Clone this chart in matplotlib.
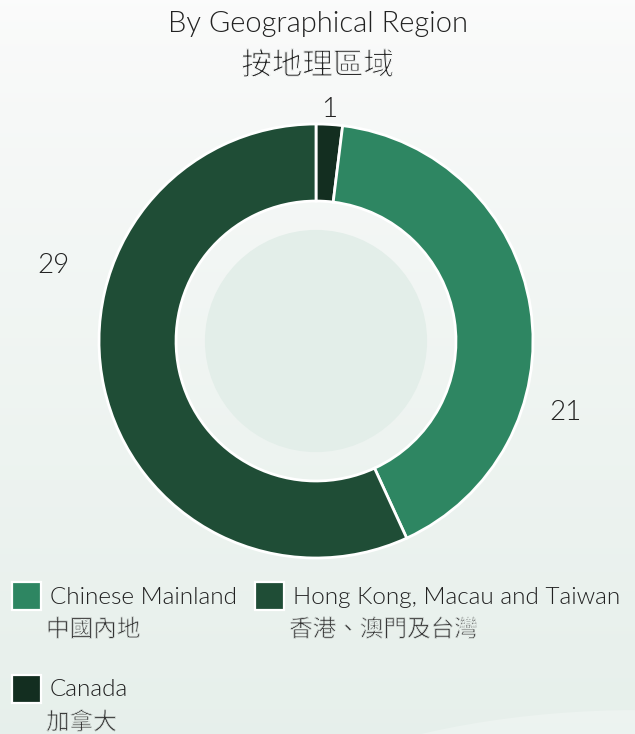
import matplotlib.pyplot as plt
import matplotlib.patches as mpatches
import matplotlib.patheffects as pe
import numpy as np

# data
regions_en = ['Canada', 'Chinese Mainland', 'Hong Kong, Macau and Taiwan']
regions_zh = ['加拿大', '中國內地', '香港、澳門及台灣']
counts = [1, 21, 29]
colors = ['#132e20', '#2e8662', '#1f4d36']

fonts = ['Lato', 'Noto Sans CJK TC', 'DejaVu Sans']
cjk = ['Noto Sans CJK TC', 'DejaVu Sans']
plt.rcParams['font.family'] = fonts
TXT = '#222222'
WT = 300

W, H = 635, 734
fig = plt.figure(figsize=(W / 100, H / 100), dpi=100)

# background with soft gradient, pixel coordinates
bg = fig.add_axes([0, 0, 1, 1])
bg.set_xlim(0, W)
bg.set_ylim(H, 0)
bg.axis('off')
top = np.array([0.985, 0.985, 0.985])
bot = np.array([0.905, 0.940, 0.922])


def bg_at(y):
    return top + (bot - top) * (y / H) ** 0.8


grad = np.linspace(0, H, 256)
img = np.array([bg_at(y) for y in grad])[:, None, :]
bg.imshow(img, extent=[0, W, H, 0], aspect='auto', zorder=0)
bg.add_patch(mpatches.Ellipse((640, 900), 900, 380, color='white', alpha=0.25, lw=0, zorder=1))


def thin(y, lw):
    # erode the heavy CJK glyphs a little so they read like a light face
    return [pe.Normal(), pe.Stroke(linewidth=lw, foreground=bg_at(y))]


# title
bg.text(W / 2, 24, 'By Geographical Region', ha='center', va='center', fontsize=21,
        color=TXT, fontweight=WT)
bg.text(W / 2, 66, '按地理區域', ha='center', va='center', fontsize=22,
        color=TXT, family=cjk, path_effects=thin(66, 0.8))

# donut
cx, cy, R = 316, 341, 217
ax = fig.add_axes([(cx - R) / W, (H - cy - R) / H, 2 * R / W, 2 * R / H])
ax.pie(counts, colors=colors, startangle=90, counterclock=False, radius=1,
       wedgeprops=dict(width=0.355, edgecolor='white', linewidth=2))
ax.add_patch(mpatches.Circle((0, 0), 0.512, color='#e3eee9', lw=0))
ax.set_xlim(-1, 1)
ax.set_ylim(-1, 1)
ax.set_aspect('equal')
ax.axis('off')

# value labels (placed beside the ring as in the original)
label_pos = [(0.06, 1.065), (1.15, -0.33), (-1.21, 0.35)]
for (lx, ly), v in zip(label_pos, counts):
    ax.text(lx, ly, str(v), ha='center', va='center', fontsize=20,
            color=TXT, fontweight=WT, clip_on=False)

# legend
legend_items = [(12, 582, 1), (255, 582, 2), (12, 675, 0)]
for x, y, i in legend_items:
    bg.add_patch(mpatches.Rectangle((x, y), 29, 28, facecolor=colors[i],
                                    edgecolor='white', lw=1.6, zorder=3))
    bg.text(x + 38, y + 15, regions_en[i], ha='left', va='center', fontsize=17.5,
            color=TXT, fontweight=WT)
    bg.text(x + 34, y + 48, regions_zh[i], ha='left', va='center', fontsize=17,
            color='#333333', family=cjk, path_effects=thin(y + 48, 0.55))

fig.savefig('out.png', dpi=100)
